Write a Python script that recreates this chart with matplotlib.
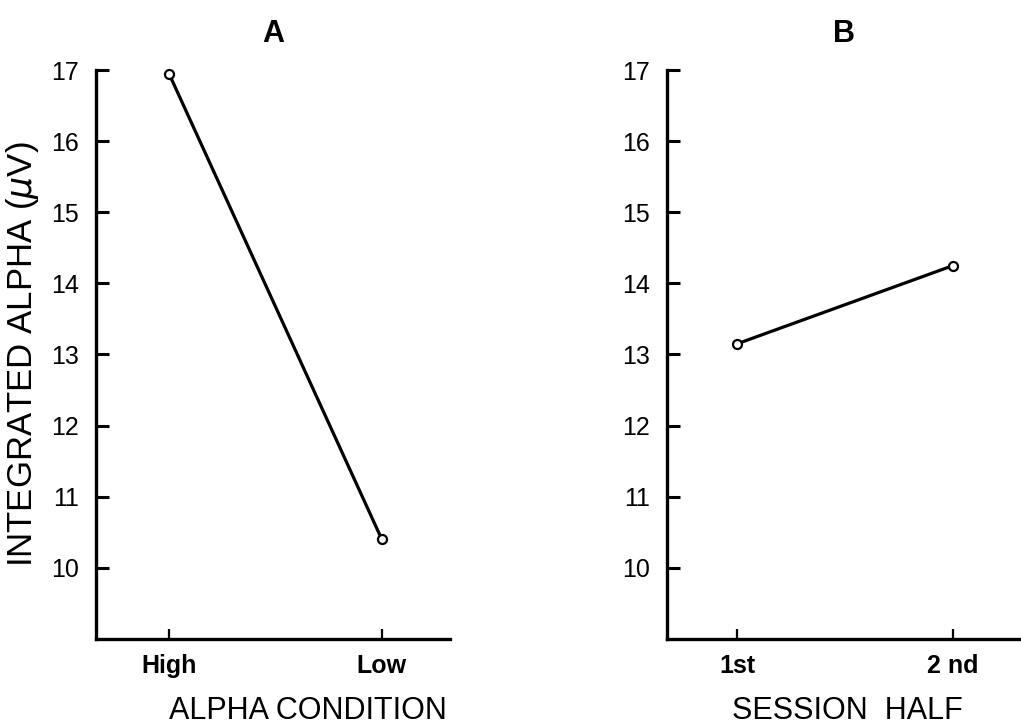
import matplotlib
matplotlib.use("Agg")
from matplotlib import pyplot as plt

plt.rcParams["font.family"] = ["Liberation Sans", "DejaVu Sans"]

# panel A: alpha condition
conditions = ["High", "Low"]
alpha_by_condition = [16.95, 10.4]

# panel B: session half
halves = ["1st", "2 nd"]
alpha_by_half = [13.15, 14.25]

yticks = [10, 11, 12, 13, 14, 15, 16, 17]

fig = plt.figure(figsize=(10.21, 7.28), dpi=100)
ax_a = fig.add_axes([0.094, 0.1223, 0.3467, 0.7815])
ax_b = fig.add_axes([0.6533, 0.1223, 0.3467, 0.7815])

panels = [
    (ax_a, conditions, alpha_by_condition, "A", "ALPHA CONDITION", (-0.343, 1.32), 0.60),
    (ax_b, halves, alpha_by_half, "B", "SESSION  HALF", (-0.324, 1.315), 0.51),
]

for ax, cats, vals, title, xlabel, xlim, xlab_pos in panels:
    xs = range(len(cats))
    ax.plot(xs, vals, color="black", lw=2.3, marker="o", ms=6.5,
            mfc="white", mec="black", mew=1.6, clip_on=False, zorder=3)
    ax.set_xlim(*xlim)
    ax.set_ylim(9, 17)
    ax.set_yticks(yticks)
    ax.set_xticks(list(xs))
    ax.set_xticklabels(cats, fontsize=18, fontweight="bold")
    ax.set_yticklabels([str(t) for t in yticks], fontsize=18)
    for side in ["top", "right"]:
        ax.spines[side].set_visible(False)
    for side in ["left", "bottom"]:
        ax.spines[side].set_linewidth(2.4)
    ax.tick_params(axis="y", direction="in", length=9, width=2.2, pad=12)
    ax.tick_params(axis="x", direction="in", length=7, width=1.6, pad=11)
    ax.set_title(title, fontsize=22, fontweight="bold", pad=20)
    ax.set_xlabel(xlabel, fontsize=22)
    ax.xaxis.set_label_coords(xlab_pos, -0.10)

ax_a.set_ylabel("INTEGRATED ALPHA ($\\mu$V)", fontsize=25)
ax_a.yaxis.set_label_coords(-0.155, 0.5)

fig.savefig("out.png", dpi=100)
